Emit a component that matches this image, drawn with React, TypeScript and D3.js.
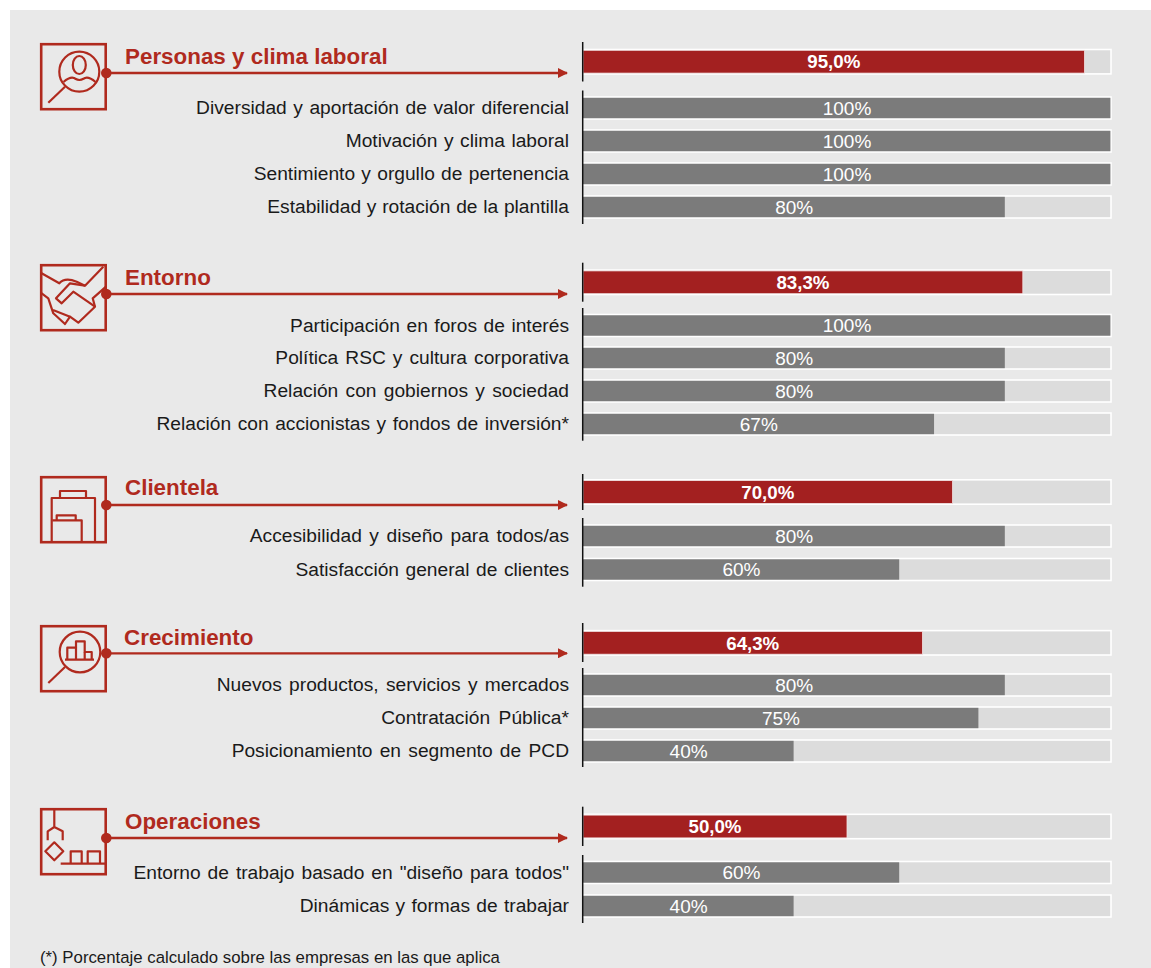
import React from "react";
import * as d3 from "d3";

const groupTitles = ["Personas y clima laboral", "Entorno", "Clientela", "Crecimiento", "Operaciones"];
const groupValues = [95.0, 83.3, 70.0, 64.3, 50.0];
const groupLabels = ["95,0%", "83,3%", "70,0%", "64,3%", "50,0%"];

const personasLabels = ["Diversidad y aportación de valor diferencial", "Motivación y clima laboral", "Sentimiento y orgullo de pertenencia", "Estabilidad y rotación de la plantilla"];
const personasValues = [100, 100, 100, 80];
const entornoLabels = ["Participación en foros de interés", "Política RSC y cultura corporativa", "Relación con gobiernos y sociedad", "Relación con accionistas y fondos de inversión*"];
const entornoValues = [100, 80, 80, 66.6];
const clientelaLabels = ["Accesibilidad y diseño para todos/as", "Satisfacción general de clientes"];
const clientelaValues = [80, 60];
const crecimientoLabels = ["Nuevos productos, servicios y mercados", "Contratación Pública*", "Posicionamiento en segmento de PCD"];
const crecimientoValues = [80, 75, 40];
const operacionesLabels = ["Entorno de trabajo basado en \"diseño para todos\"", "Dinámicas y formas de trabajar"];
const operacionesValues = [60, 40];

const rowLabels = [personasLabels, entornoLabels, clientelaLabels, crecimientoLabels, operacionesLabels];
const rowValues = [personasValues, entornoValues, clientelaValues, crecimientoValues, operacionesValues];
const footnote = "(*) Porcentaje calculado sobre las empresas en las que aplica";

// layout (band centres)
const headerCenters = [61.7, 282.3, 492, 642.8, 826.5];
const rowCenters = [[108, 141, 174, 207], [325.5, 358, 391, 424], [536, 569.5], [685, 718, 751], [872.5, 906]];
const rowWordSpacing = [[1.2, 1.2, 0.95, 0.4], [1.2, 1.7, 1.95, 1.2], [2.2, 1.2], [1.95, 3.2, 1.95], [1.6, 0.95]];
const headerTitleY = [56.4, 277.4, 487.4, 637.4, 821.4];
const titleX = [125, 125, 125, 124, 125];
const iconTop = [43, 264, 476, 625, 808];
const arrowY = [73, 294, 505, 653.3, 838];
const axisSpans = [[[42, 81.5], [90.5, 224]], [[262.7, 301.7], [308, 440.7]], [[474, 510], [518, 586.7]], [[623, 662], [668, 767]], [[806.7, 846], [855, 923]]];

const RED = "#a32020";
const LINE = "#b02a1e";
const GREY = "#7b7b7b";
const TRACK = "#dcdcdc";
const x = d3.scaleLinear().domain([0, 100]).range([583, 1111]);
const FONT = "'Liberation Sans', Arial, sans-serif";

const iconStyle = { fill: "none", stroke: LINE, strokeWidth: 2.2, strokeLinejoin: "round" as const };

function Icon({ i }: { i: number }) {
  return (
    <g {...iconStyle}>
      <rect x={1.2} y={1.2} width={64.5} height={65} strokeWidth={2.6} strokeLinejoin="miter" />
      {i === 0 && (
        <>
          <circle cx={39.3} cy={28.7} r={20} />
          <ellipse cx={39.3} cy={22} rx={6.5} ry={9} />
          <path d="M23.5 39 C27 36 31 34 34 35 C36 36 37 37 39.3 37 C41.5 37 43 36 45 35 C48 34 52 36 55.5 39" />
          <path d="M25 43.7 L8.3 59.7" />
        </>
      )}
      {i === 1 && (
        <>
          <path d="M0.7 8.7 L19.3 19.3 C24 14 30 15 36.7 17.7 L45 21.7 L63.3 2.7" />
          <path d="M45 21.7 L30 19.3 L16 34.3 L21.7 39.3 L33.3 27.7 L55 42.7 L38.3 58.7 L30 52.7 L25 60 L13.3 49.3 L8.3 34.3 L0.7 28.7" />
          <path d="M55 42.7 L52.7 34.3 L66 22.7" />
          <path d="M13 46 L30 52.7" />
        </>
      )}
      {i === 2 && (
        <>
          <path d="M11.7 66 V22 H55 V66" />
          <path d="M20 22 V15 H46 V22" />
          <path d="M12.3 44.3 H41.7 V66" />
          <path d="M16.7 44.3 V39.3 H35.7 V44.3" />
        </>
      )}
      {i === 3 && (
        <>
          <circle cx={40} cy={27} r={20.3} />
          <path d="M27.3 34.7 V22.7 H36 V16.3 H44.7 V27 H51.7 V34.7" />
          <path d="M25 34.7 H54 M36 22.7 V34.7 M44.7 27 V34.7" />
          <path d="M25 42 L8.3 58" />
        </>
      )}
      {i === 4 && (
        <>
          <path d="M14.3 0 V19 M7.7 32.3 V23.3 L14.3 19 L22.7 23.3 V32.3" />
          <path d="M14.3 34.3 L23.3 43.3 L14.3 52.3 L5.3 43.3 Z" />
          <path d="M20.7 55.7 H66" />
          <path d="M30.7 55.7 V43.3 H41.7 V55.7 M47.7 55.7 V43.3 H60 V55.7" />
        </>
      )}
    </g>
  );
}

export default function App() {
  return (
    <svg width={1151} height={968} style={{ position: "absolute", left: 0, top: 0, display: "block" }} fontFamily={FONT}>
      <defs>
        <marker id="ah" viewBox="0 0 10 10" refX={9} refY={5} markerWidth={10} markerHeight={10} markerUnits="userSpaceOnUse" orient="auto">
          <path d="M0 0 L10 5 L0 10 Z" fill={LINE} />
        </marker>
      </defs>
      <rect width={1151} height={968} fill="#fff" />
      <rect x={10} y={10} width={1141} height={958} fill="#e9e9e9" />
      {groupTitles.map((title, g) => (
        <g key={title}>
          <g transform={`translate(40,${iconTop[g]})`}><Icon i={g} /></g>
          <text x={titleX[g]} y={headerTitleY[g]} dy="0.35em" fontSize={22.4} fontWeight={700} fill={LINE}>{title}</text>
          <line x1={106} x2={567} y1={arrowY[g]} y2={arrowY[g]} stroke={LINE} strokeWidth={2.3} markerEnd="url(#ah)" />
          <circle cx={106.3} cy={arrowY[g]} r={5.3} fill={LINE} />
          <rect x={x(0)} y={headerCenters[g] - 12.2} width={x(100) - x(0)} height={24.4} fill={TRACK} stroke="#fff" strokeWidth={1.6} />
          <rect x={x(0)} y={headerCenters[g] - 11.4} width={x(groupValues[g]) - x(0)} height={22.8} fill={RED} stroke="#f2e4e4" strokeWidth={0.8} />
          <text x={(x(0) + x(groupValues[g])) / 2} y={headerCenters[g] + 0.2} dy="0.35em" textAnchor="middle" fontSize={18.7} fontWeight={700} fill="#fff">{groupLabels[g]}</text>
          {rowLabels[g].map((label, r) => {
            const y = rowCenters[g][r];
            const v = rowValues[g][r];
            return (
              <g key={label}>
                <text x={569} y={y - 0.4} dy="0.35em" textAnchor="end" fontSize={19.2} fill="#1a1a1a" wordSpacing={`${rowWordSpacing[g][r]}px`}>{label}</text>
                <rect x={x(0)} y={y - 11} width={x(100) - x(0)} height={22} fill={TRACK} stroke="#fff" strokeWidth={1.6} />
                <rect x={x(0)} y={y - 10.2} width={x(v) - x(0) - 0.6} height={20.4} fill={GREY} />
                <text x={(x(0) + x(v)) / 2} y={y} dy="0.35em" textAnchor="middle" fontSize={19} fill="#fff">{Math.round(v)}%</text>
              </g>
            );
          })}
          {axisSpans[g].map(([a, b]) => (
            <line key={a} x1={x(0) - 0.3} x2={x(0) - 0.3} y1={a} y2={b} stroke="#111" strokeWidth={1.5} />
          ))}
        </g>
      ))}
      <text x={40} y={957} dy="0.35em" fontSize={16.8} fill="#1a1a1a">{footnote}</text>
    </svg>
  );
}
